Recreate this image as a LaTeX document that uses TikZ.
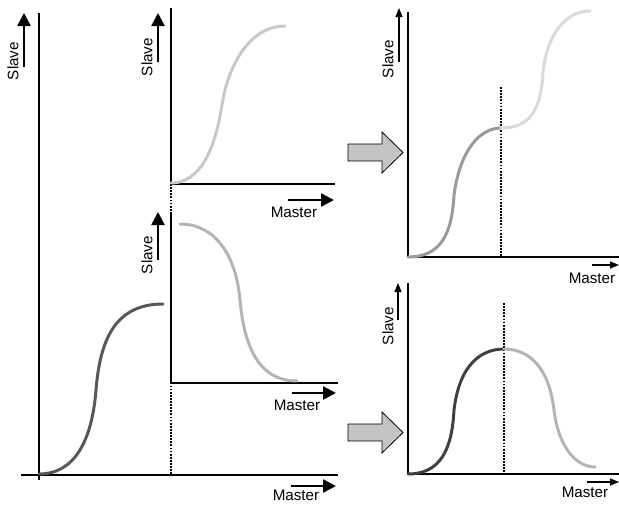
\documentclass[tikz,border=0pt]{standalone}
\usepackage{fontspec}
\setmainfont{Liberation Sans}
\usetikzlibrary{arrows.meta}
\definecolor{curveA}{HTML}{585858}
\definecolor{curveB}{HTML}{C8C8C8}
\definecolor{curveC}{HTML}{B4B4B4}
\definecolor{curveD}{HTML}{9A9A9A}
\definecolor{curveE}{HTML}{DADADA}
\definecolor{curveF}{HTML}{404040}
\definecolor{blockgray}{HTML}{C4C4C4}
\begin{document}
\begin{tikzpicture}[x=1pt,y=-1pt,
  lbl/.style={font=\fontsize{15.2}{17}\selectfont, inner sep=0pt},
  axisthick/.style={line width=2.6pt, line join=miter},
  axisthin/.style={line width=2pt, line join=miter},
  bigarr/.style={line width=2.5pt, -{Triangle[width=13pt,length=13pt]}},
  smallarr/.style={line width=1.4pt, -{Triangle[width=7pt,length=9pt]}},
  curve/.style={line width=3pt, line cap=round},
  guide/.style={line width=1.1pt, dash pattern=on 1.8pt off 1.3pt},
  block/.style={draw=black, line width=0.8pt, fill=blockgray, line join=miter}
]
\useasboundingbox (0,0) rectangle (619,504);

% ---------- left big plot ----------
\coordinate (L-top) at (39,13);
\coordinate (L-bot) at (39,480);
\coordinate (L-left) at (21,475);
\coordinate (L-right) at (338,475);
\draw[axisthick] (L-top) -- (L-bot);
\draw[axisthick] (L-left) -- (L-right);
\draw[curve, curveA] (39,474) .. controls (75,474) and (92,440) .. (96,390)
  .. controls (100,340) and (115,304) .. (163,304);
\node[lbl, rotate=90] (LS) at (13,61) {Slave};
\coordinate (LS-a) at (24,67);
\coordinate (LS-b) at (24,13);
\draw[bigarr] (LS-a) -- (LS-b);
\node[lbl] (LM) at (296,495) {Master};
\coordinate (LM-a) at (291,486);
\coordinate (LM-b) at (336,486);
\draw[bigarr] (LM-a) -- (LM-b);

% dotted guide
\coordinate (G1-a) at (171,184);
\coordinate (G1-b) at (171,475);
\draw[guide] (G1-a) -- (G1-b);

% ---------- top middle plot ----------
\coordinate (T-top) at (171,8);
\coordinate (T-org) at (171,184);
\coordinate (T-right) at (335,184);
\draw[axisthick] (T-top) -- (T-org) -- (T-right);
\draw[curve, curveB] (171,183) .. controls (200,183) and (215,150) .. (222,105)
  .. controls (228,65) and (250,26) .. (285,26);
\node[lbl, rotate=90] (TS) at (147,57) {Slave};
\coordinate (TS-a) at (158,62);
\coordinate (TS-b) at (158,13);
\draw[bigarr] (TS-a) -- (TS-b);
\node[lbl] (TM) at (294,212) {Master};
\coordinate (TM-a) at (288,200);
\coordinate (TM-b) at (334,200);
\draw[bigarr] (TM-a) -- (TM-b);

% ---------- bottom middle plot ----------
\coordinate (B-top) at (171,212);
\coordinate (B-org) at (171,383);
\coordinate (B-right) at (338,383);
\draw[axisthick] (B-top) -- (B-org) -- (B-right);
\draw[curve, curveC] (180,224) .. controls (215,224) and (236,255) .. (240,300)
  .. controls (244,345) and (258,381) .. (297,381);
\node[lbl, rotate=90] (BS) at (147,255) {Slave};
\coordinate (BS-a) at (158,260);
\coordinate (BS-b) at (158,212);
\draw[bigarr] (BS-a) -- (BS-b);
\node[lbl] (BM) at (297,405) {Master};
\coordinate (BM-a) at (292,393);
\coordinate (BM-b) at (336,393);
\draw[bigarr] (BM-a) -- (BM-b);

% ---------- block arrows ----------
\draw[block] (348,144) -- (382,144) -- (382,132) -- (403,152.5) -- (382,173) -- (382,161) -- (348,161) -- cycle;
\draw[block] (348,424) -- (382,424) -- (382,412) -- (403,432.5) -- (382,453) -- (382,441) -- (348,441) -- cycle;

% ---------- top right plot ----------
\coordinate (R1-top) at (408,12);
\coordinate (R1-org) at (408,257);
\coordinate (R1-right) at (619,257);
\draw[axisthin] (R1-top) -- (R1-org) -- (R1-right);
\coordinate (G2-a) at (501,87);
\coordinate (G2-b) at (501,257);
\draw[guide] (G2-a) -- (G2-b);
\draw[curve, curveD] (408,257) .. controls (440,257) and (452,235) .. (454,195)
  .. controls (460,150) and (480,128) .. (501,128);
\draw[curve, curveE] (501,128) .. controls (530,128) and (541,110) .. (543,72)
  .. controls (547,35) and (565,11) .. (590,11);
\node[lbl, rotate=90] (R1S) at (388,59) {Slave};
\coordinate (R1S-a) at (399,62);
\coordinate (R1S-b) at (399,8);
\draw[smallarr] (R1S-a) -- (R1S-b);
\node[lbl] (R1M) at (592,278) {Master};
\coordinate (R1M-a) at (592,265);
\coordinate (R1M-b) at (619,265);
\draw[smallarr] (R1M-a) -- (R1M-b);

% ---------- bottom right plot ----------
\coordinate (R2-top) at (408,283);
\coordinate (R2-org) at (408,474);
\coordinate (R2-right) at (619,474);
\draw[axisthin] (R2-top) -- (R2-org) -- (R2-right);
\coordinate (G3-a) at (504,303);
\coordinate (G3-b) at (504,474);
\draw[guide] (G3-a) -- (G3-b);
\draw[curve, curveF] (408,474) .. controls (440,474) and (452,450) .. (454,410)
  .. controls (460,360) and (485,349) .. (504,349);
\draw[curve, curveC] (504,349) .. controls (523,349) and (548,360) .. (554,410)
  .. controls (558,445) and (575,467) .. (595,467);
\node[lbl, rotate=90] (R2S) at (388,326) {Slave};
\coordinate (R2S-a) at (398,320);
\coordinate (R2S-b) at (398,283);
\draw[smallarr] (R2S-a) -- (R2S-b);
\node[lbl] (R2M) at (585,492) {Master};
\coordinate (R2M-a) at (587,482);
\coordinate (R2M-b) at (619,482);
\draw[smallarr] (R2M-a) -- (R2M-b);
\end{tikzpicture}
\end{document}
